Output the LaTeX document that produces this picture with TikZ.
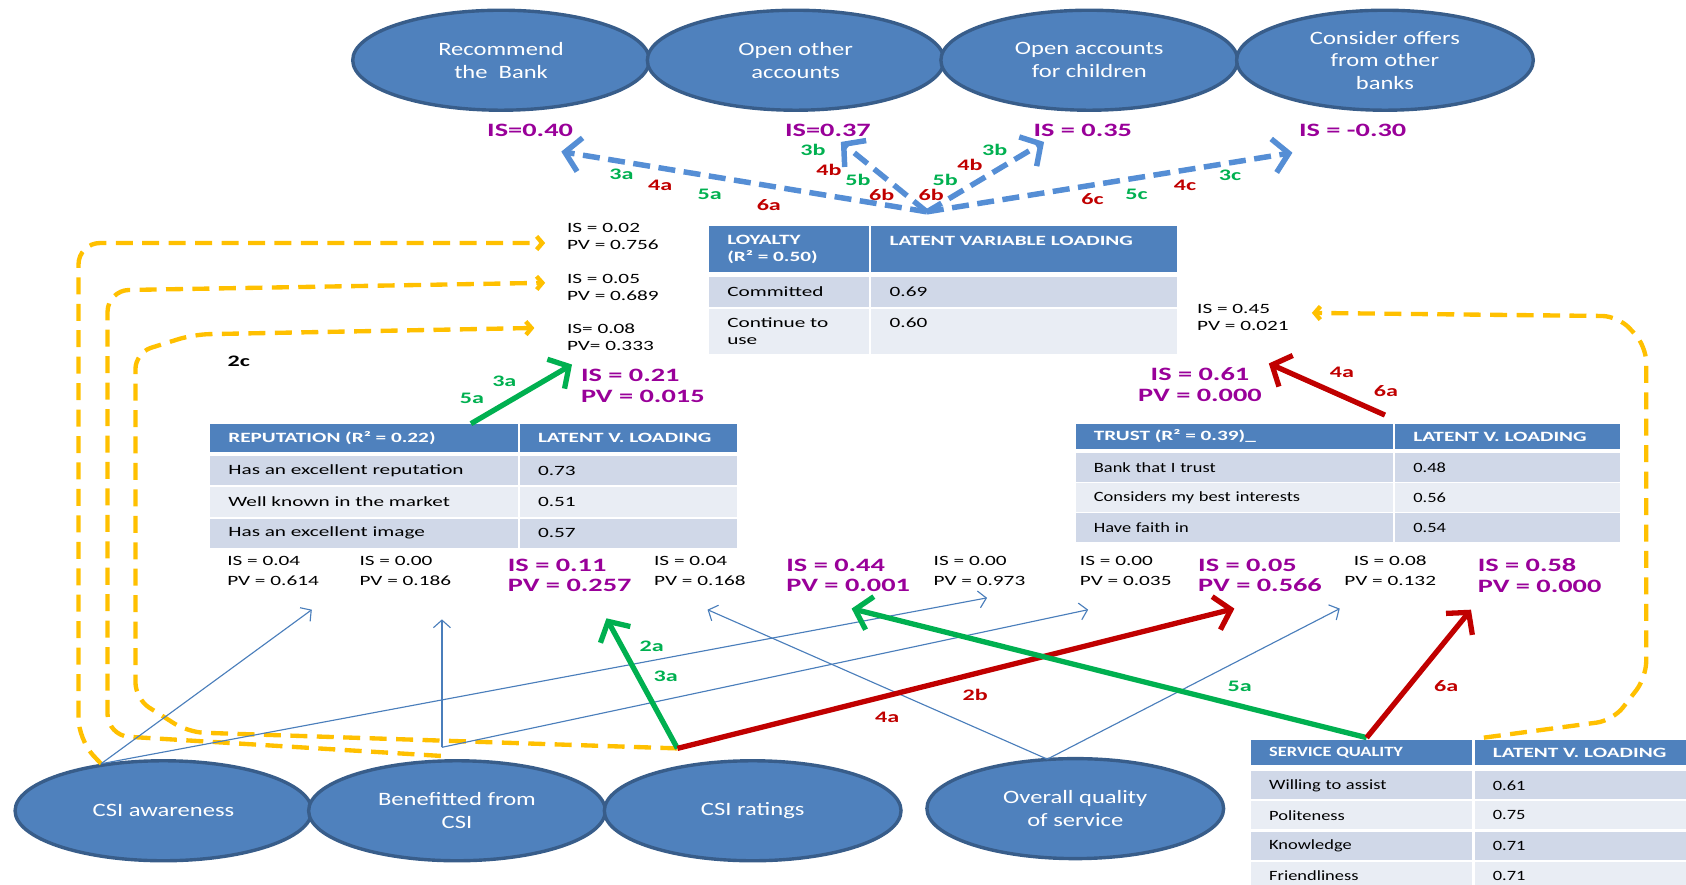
\documentclass[tikz,border=0pt]{standalone}
\usepackage{fontspec}
\setmainfont{Carlito}
\newfontfamily\stretchA{Carlito}[FakeStretch=1.3]
\newfontfamily\stretchB{Carlito}[FakeStretch=1.5]
\usetikzlibrary{arrows.meta,shapes.geometric}

\definecolor{bubbleFill}{HTML}{4F81BD}
\definecolor{bubbleEdge}{HTML}{385D8A}
\definecolor{headBlue}{HTML}{4F81BD}
\definecolor{rowDark}{HTML}{D0D8E8}
\definecolor{rowLight}{HTML}{E9EDF4}
\definecolor{isPurple}{HTML}{990099}
\definecolor{pathGreen}{HTML}{00B050}
\definecolor{pathRed}{HTML}{C00000}
\definecolor{dashBlue}{HTML}{558ED5}
\definecolor{thinBlue}{HTML}{4A7EBB}
\definecolor{yelDash}{HTML}{FFC000}

\begin{document}
\begin{tikzpicture}[x=0.02cm, y=-0.02cm,
    bubble/.style={ellipse, draw=bubbleEdge, line width=1.8pt, fill=bubbleFill,
      text=white, align=center, minimum width=5.52cm, minimum height=1.86cm,
      inner sep=0pt, font=\stretchA\fontsize{10}{12}\selectfont},
    cell/.style={anchor=north west, inner xsep=0.34cm, inner ysep=0pt,
      align=left, font=\stretchB\fontsize{7.5}{9}\selectfont},
    headcell/.style={cell, fill=headBlue, text=white,
      font=\stretchB\bfseries\fontsize{7.5}{9}\selectfont},
    stat/.style={anchor=west, inner sep=0pt, align=left,
      font=\stretchB\fontsize{7.5}{9}\selectfont},
    statlow/.style={stat, font=\stretchB\fontsize{7.5}{10.8}\selectfont},
    bigstat/.style={anchor=west, inner sep=0pt, align=left, text=isPurple,
      font=\stretchB\bfseries\fontsize{10}{11}\selectfont},
    istop/.style={inner sep=0pt, text=isPurple,
      font=\stretchB\bfseries\fontsize{10}{12}\selectfont},
    pathlabel/.style={inner sep=0pt, font=\stretchB\bfseries\fontsize{8.5}{10}\selectfont},
    bluedash/.style={draw=dashBlue, line width=2.9pt, dash pattern=on 9pt off 4.5pt,
      -{Straight Barb[length=8pt,width=18pt]}},
    thickarrow/.style={line width=2.8pt, -{Straight Barb[length=8pt,width=18pt]}},
    thinarrow/.style={draw=thinBlue, line width=0.6pt, -{Straight Barb[length=4pt,width=9pt]}},
    yelpath/.style={draw=yelDash, line width=2.3pt, dash pattern=on 9pt off 5pt,
      rounded corners=0.4cm, -{Straight Barb[length=3pt,width=7pt]}}
  ]
  \useasboundingbox (0,0) rectangle (1568,823);

  % outcome ellipses
  \node[bubble] (recommend) at (466,56) {Recommend\\the~~Bank};
  \node[bubble] (openOther) at (740,56) {Open other\\accounts};
  \node[bubble] (openKids) at (1013,56) {Open accounts\\for children};
  \node[bubble] (offers) at (1288,56) {Consider offers\\from other\\banks};

  \node[istop] (isRecommend) at (493,121) {IS=0.40};
  \node[istop] (isOpenOther) at (770,121) {IS=0.37};
  \node[istop] (isOpenKids) at (1007,121) {IS = 0.35};
  \node[istop] (isOffers) at (1258,121) {IS = -0.30};

  % loyalty paths
  \coordinate (hub) at (862,197);
  \coordinate (tipRecommend) at (522,141);
  \coordinate (tipOpenOther) at (782,132);
  \coordinate (tipOpenKids) at (971,132);
  \coordinate (tipOffers) at (1202,142);
  \draw[bluedash] (hub) -- (tipRecommend);
  \draw[bluedash] (hub) -- (tipOpenOther);
  \draw[bluedash] (hub) -- (tipOpenKids);
  \draw[bluedash] (hub) -- (tipOffers);

  \foreach \t/\c/\x/\y [count=\i] in {3a/pathGreen/578/162, 4a/pathRed/614/172,
      5a/pathGreen/660/181, 6a/pathRed/715/191, 3b/pathGreen/756/139,
      4b/pathRed/771/158, 5b/pathGreen/798/167, 6b/pathRed/820/181,
      6b/pathRed/866/181, 5b/pathGreen/879/167, 4b/pathRed/902/153,
      3b/pathGreen/925/139, 6c/pathRed/1016/185, 5c/pathGreen/1057/181,
      4c/pathRed/1102/172, 3c/pathGreen/1144/163}
    \node[pathlabel, text=\c] (hubLabel\i) at (\x,\y) {\t};

  % loyalty table
  \node[headcell, text width=2.30cm, minimum height=0.86cm] (loyHeadA) at (659,210) {LOYALTY\\(R² = 0.50)};
  \node[headcell, text width=5.0cm, minimum height=0.86cm] (loyHeadB) at (810,210) {LATENT VARIABLE LOADING\\~};
  \node[cell, fill=rowDark, text width=2.30cm, minimum height=0.56cm] (loyA1) at (659,257) {Committed};
  \node[cell, fill=rowDark, text width=5.0cm, minimum height=0.56cm] (loyB1) at (810,257) {0.69};
  \node[cell, fill=rowLight, text width=2.30cm, minimum height=0.84cm] (loyA2) at (659,287) {Continue to\\use};
  \node[cell, fill=rowLight, text width=5.0cm, minimum height=0.84cm] (loyB2) at (810,287) {0.60\\~};

  % reputation table
  \node[headcell, text width=5.04cm, minimum height=0.52cm] (repHeadA) at (195,394) {REPUTATION (R² = 0.22)};
  \node[headcell, text width=3.36cm, minimum height=0.52cm] (repHeadB) at (483,394) {LATENT V. LOADING};
  \foreach \item/\val [count=\i] in {Has an excellent reputation/0.73,
      Well known in the market/0.51, Has an excellent image/0.57} {
    \ifodd\i \def\rowfill{rowDark}\else \def\rowfill{rowLight}\fi
    \node[cell, fill=\rowfill, text width=5.04cm, minimum height=0.54cm] (repA\i) at (195,{424+29*(\i-1)}) {\item};
    \node[cell, fill=\rowfill, text width=3.36cm, minimum height=0.54cm] (repB\i) at (483,{424+29*(\i-1)}) {\val};
  }

  % trust table
  \node[headcell, text width=5.22cm, minimum height=0.46cm] (trustHeadA) at (1000,394) {TRUST (R² = 0.39)\_};
  \node[headcell, text width=3.50cm, minimum height=0.46cm] (trustHeadB) at (1297,394) {LATENT V. LOADING};
  \foreach \item/\val [count=\i] in {Bank that I trust/0.48,
      Considers my best interests/0.56, Have faith in/0.54} {
    \ifodd\i \def\rowfill{rowDark}\else \def\rowfill{rowLight}\fi
    \node[cell, font=\stretchA\fontsize{7.5}{9}\selectfont, fill=\rowfill, text width=5.22cm, minimum height=0.54cm] (trustA\i) at (1000,{421+28*(\i-1)}) {\item};
    \node[cell, font=\stretchA\fontsize{7.5}{9}\selectfont, fill=\rowfill, text width=3.50cm, minimum height=0.54cm] (trustB\i) at (1297,{421+28*(\i-1)}) {\val};
  }

  % service quality table
  \node[headcell, font=\stretchA\bfseries\fontsize{7.5}{9}\selectfont, text width=3.44cm, minimum height=0.46cm] (servHeadA) at (1163,688) {SERVICE QUALITY};
  \node[headcell, text width=3.26cm, minimum height=0.46cm] (servHeadB) at (1371,688) {LATENT V. LOADING};
  \foreach \item/\val [count=\i] in {Willing to assist/0.61, Politeness/0.75,
      Knowledge/0.71, Friendliness/0.71} {
    \ifodd\i \def\rowfill{rowDark}\else \def\rowfill{rowLight}\fi
    \node[cell, font=\stretchA\fontsize{7.5}{9}\selectfont, fill=\rowfill, text width=3.44cm, minimum height=0.52cm] (servA\i) at (1163,{717+28*(\i-1)}) {\item};
    \node[cell, font=\stretchA\fontsize{7.5}{9}\selectfont, fill=\rowfill, text width=3.26cm, minimum height=0.52cm] (servB\i) at (1371,{717+28*(\i-1)}) {\val};
  }

  % driver ellipses
  \node[bubble] (awareness) at (152,754) {CSI awareness};
  \node[bubble] (benefitted) at (425,754) {Benefitted from\\CSI};
  \node[bubble] (ratings) at (700,754) {CSI ratings};
  \node[bubble] (overall) at (1000,752) {Overall quality\\of service};

  % effect sizes
  \node[stat] (st756) at (527,220) {IS = 0.02\\PV = 0.756};
  \node[stat] (st689) at (527,267) {IS = 0.05\\PV = 0.689};
  \node[stat] (st333) at (527,314) {IS= 0.08\\PV= 0.333};
  \node[stat] (st021) at (1113,295) {IS = 0.45\\PV = 0.021};
  \node[statlow] (st614) at (211,531) {IS = 0.04\\PV = 0.614};
  \node[statlow] (st186) at (334,531) {IS = 0.00\\PV = 0.186};
  \node[statlow] (st168) at (608,531) {IS = 0.04\\PV = 0.168};
  \node[statlow] (st973) at (868,531) {IS = 0.00\\PV = 0.973};
  \node[statlow] (st035) at (1004,531) {IS = 0.00\\PV = 0.035};
  \node[statlow, align=center] (st132) at (1250,531) {IS = 0.08\\PV = 0.132};

  \node[bigstat] (big257) at (472,535) {IS = 0.11\\PV = 0.257};
  \node[bigstat] (big001) at (731,535) {IS = 0.44\\PV = 0.001};
  \node[bigstat] (big566) at (1114,535) {IS = 0.05\\PV = 0.566};
  \node[bigstat] (big000) at (1374,535) {IS = 0.58\\PV = 0.000};
  \node[bigstat] (big015) at (540,359) {IS = 0.21\\PV = 0.015};
  \node[bigstat, anchor=center, align=center] (big61) at (1116,358) {IS = 0.61\\PV = 0.000};

  \node[pathlabel] (twoC) at (222,336) {2c};

  % path start and end points
  \coordinate (awareOut) at (awareness.143);
  \coordinate (benefOut) at (411,695);
  \coordinate (benefYel) at (410,703);
  \coordinate (ratingOut) at (630,696);
  \coordinate (overallOut) at (974,706);
  \coordinate (serviceOut) at (1271,686);
  \coordinate (serviceYel) at (1380,686);
  \coordinate (trustOut) at (1288,386);
  \coordinate (repOut) at (438,394);

  \coordinate (to614) at (290,567);
  \coordinate (to186) at (411,576);
  \coordinate (to168) at (658,567);
  \coordinate (to973) at (918,556);
  \coordinate (to035) at (1012,567);
  \coordinate (to132) at (1246,566);
  \coordinate (to257) at (564,575);
  \coordinate (to001) at (792,566);
  \coordinate (to566) at (1148,566);
  \coordinate (to000) at (1368,567);
  \coordinate (to015) at (532,339);
  \coordinate (to61) at (1180,338);

  % yellow paths
  \draw[yelpath] (awareOut) -- (73,688) -- (73,226) -- (507,226);
  \draw[yelpath] (benefYel) -- (100,684) -- (100,270) -- (507,263);
  \draw[yelpath, rounded corners=0.3cm] (ratingOut) -- (175,681) -- (126,650) -- (126,328) -- (180,311) -- (497,305);
  \draw[yelpath, rounded corners=0.3cm] (serviceYel) -- (1500,670) -- (1531,630) -- (1531,322) -- (1505,294) -- (1220,291);

  % thin paths
  \draw[thinarrow] (awareOut) -- (to614);
  \draw[thinarrow] (awareOut) -- (to973);
  \draw[thinarrow] (benefOut) -- (to186);
  \draw[thinarrow] (benefOut) -- (to035);
  \draw[thinarrow] (overallOut) -- (to168);
  \draw[thinarrow] (overallOut) -- (to132);

  % thick paths
  \draw[thickarrow, pathGreen] (ratingOut) -- (to257);
  \draw[thickarrow, pathRed] (ratingOut) -- (to566);
  \draw[thickarrow, pathGreen] (serviceOut) -- (to001);
  \draw[thickarrow, pathRed] (serviceOut) -- (to000);
  \draw[thickarrow, pathGreen] (repOut) -- (to015);
  \draw[thickarrow, pathRed] (trustOut) -- (to61);

  \foreach \t/\c/\x/\y [count=\i] in {2a/pathGreen/606/601, 3a/pathGreen/619/629,
      4a/pathRed/825/667, 2b/pathRed/907/646, 5a/pathGreen/1153/638,
      6a/pathRed/1345/638, 3a/pathGreen/469/355, 5a/pathGreen/439/370,
      4a/pathRed/1248/346, 6a/pathRed/1289/364}
    \node[pathlabel, text=\c] (pathLabel\i) at (\x,\y) {\t};
\end{tikzpicture}
\end{document}
